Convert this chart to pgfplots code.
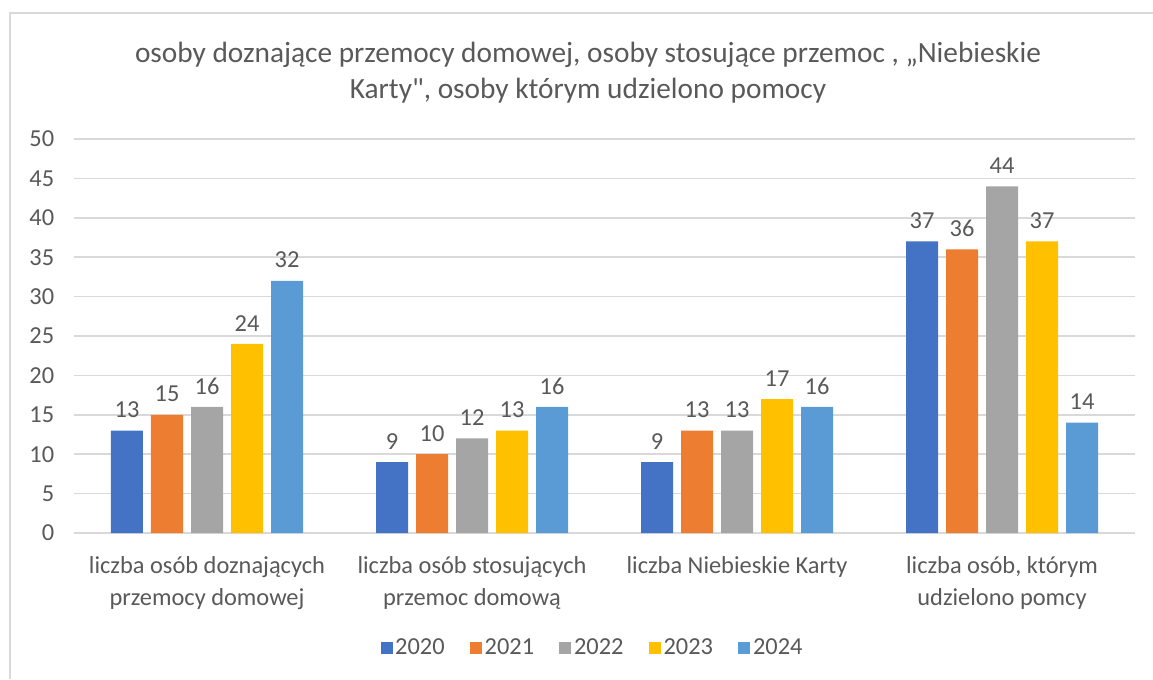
\documentclass[border=0pt]{standalone}
\usepackage{fontspec}
\setmainfont{Carlito}
\usepackage{pgfplots}
\pgfplotsset{compat=1.18}
\definecolor{cA}{HTML}{4472C4}
\definecolor{cB}{HTML}{ED7D31}
\definecolor{cC}{HTML}{A5A5A5}
\definecolor{cD}{HTML}{FFC000}
\definecolor{cE}{HTML}{5B9BD5}
\definecolor{txt}{HTML}{595959}
\definecolor{gridc}{HTML}{D9D9D9}
\begin{document}
\begin{tikzpicture}
\useasboundingbox (0pt,0pt) rectangle (864.75pt,509.25pt);
\draw[gridc,line width=1.5pt] (7.5pt,0pt) -- (7.5pt,499.5pt) -- (864.75pt,499.5pt);
\node[txt,font=\fontsize{22}{26}\selectfont,align=center,anchor=center] at (441pt,455pt) {osoby doznające przemocy domowej, osoby stosujące przemoc , „Niebieskie\\[1pt] Karty{\addfontfeature{Mapping=}"}, osoby którym udzielono pomocy};
\begin{axis}[
  at={(55.875pt,109.5pt)}, anchor=south west,
  scale only axis, width=795pt, height=295.5pt,
  ymin=0, ymax=50, ytick={0,5,...,50},
  xmin=-0.5, xmax=3.5, xtick={0,1,2,3},
  xticklabels={{liczba osób doznających\\przemocy domowej},{liczba osób stosujących\\przemoc domową},{liczba Niebieskie Karty},{liczba osób, którym\\udzielono pomcy}},
  xticklabel style={align=center, anchor=north, yshift=-14pt, font=\fontsize{18.3}{24}\selectfont, text=txt},
  yticklabel style={anchor=east, inner sep=0pt, xshift=-15pt, font=\fontsize{18.3}{20}\selectfont, text=txt},
  /pgf/number format/assume math mode=true,
  major tick length=0pt,
  axis line style={draw=none},
  ymajorgrids, xmajorgrids=false, grid style={draw=gridc, line width=1.2pt},
  ybar=6pt, bar width=24pt,
  nodes near coords,
  every node near coord/.append style={font=\fontsize{18.3}{20}\selectfont, text=txt, yshift=6pt},
  legend style={at={(0.489,-0.255)}, anchor=north, draw=none, legend columns=5, font=\fontsize{18.3}{20}\selectfont, text=txt, /tikz/every even column/.append style={column sep=17pt}},
  legend image code/.code={\fill[#1] (0pt,-4.5pt) rectangle (9pt,4.5pt);},
]
\addplot[fill=cA, draw=none] coordinates {(0,13) (1,9) (2,9) (3,37)};
\addplot[fill=cB, draw=none] coordinates {(0,15) (1,10) (2,13) (3,36)};
\addplot[fill=cC, draw=none] coordinates {(0,16) (1,12) (2,13) (3,44)};
\addplot[fill=cD, draw=none] coordinates {(0,24) (1,13) (2,17) (3,37)};
\addplot[fill=cE, draw=none] coordinates {(0,32) (1,16) (2,16) (3,14)};
\legend{2020,2021,2022,2023,2024}
\end{axis}
\end{tikzpicture}
\end{document}
